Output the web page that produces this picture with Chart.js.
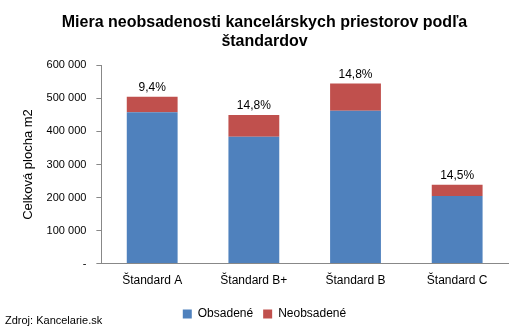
<!DOCTYPE html>
<html><head><meta charset="utf-8">
<script src="https://cdn.jsdelivr.net/npm/chart.js@4"></script>
<style>
html,body{margin:0;padding:0;background:#fff;}
#wrap{position:relative;width:522px;height:330px;}
#src{position:absolute;left:5px;top:314px;font:11px "Liberation Sans",Arial,sans-serif;color:#000;}
</style></head>
<body><div id="wrap"><canvas id="c" width="522" height="330"></canvas><div id="src">Zdroj: Kancelarie.sk</div></div>
<script>
const categories = ["Štandard A","Štandard B+","Štandard B","Štandard C"];
const occupied = [458000, 384000, 463000, 205000];
const vacant = [47000, 66000, 82000, 34000];
const percentLabels = ["9,4%","14,8%","14,8%","14,5%"];
const seriesNames = ["Obsadené","Neobsadené"];
const yTicks = [0,100000,200000,300000,400000,500000,600000];

const font = '"Liberation Sans", Arial, sans-serif';

const topLabels = {
  id:'topLabels',
  afterDatasetsDraw(chart){
    const ctx = chart.ctx;
    const meta = chart.getDatasetMeta(1);
    ctx.save();
    ctx.font = '12px ' + font;
    ctx.fillStyle = '#000';
    ctx.textAlign = 'center';
    ctx.textBaseline = 'bottom';
    meta.data.forEach((bar,i)=>{
      ctx.fillText(percentLabels[i], bar.x, bar.y - 3);
    });
    ctx.restore();
  }
};

new Chart(document.getElementById('c'), {
  type:'bar',
  data:{
    labels: categories,
    datasets:[
      {label: seriesNames[0], data: occupied, backgroundColor:'#4F81BD', categoryPercentage:1, barPercentage:0.5},
      {label: seriesNames[1], data: vacant, backgroundColor:'#C0504D', categoryPercentage:1, barPercentage:0.5}
    ]
  },
  options:{
    responsive:false,
    animation:false,
    layout:{padding:{left:21,right:14,top:7,bottom:0}},
    plugins:{
      title:{display:true, text:['Miera neobsadenosti kancelárskych priestorov podľa','štandardov'],
        font:{family:font, size:16, weight:'bold'}, color:'#000', padding:{top:6,bottom:14}, lineHeight:1.2},
      legend:{position:'bottom', labels:{boxWidth:9, boxHeight:9, font:{family:font,size:12}, color:'#000', padding:10}},
      tooltip:{enabled:false}
    },
    scales:{
      x:{stacked:true,
        grid:{display:false, drawTicks:false},
        border:{color:'#888'},
        ticks:{font:{family:font,size:12}, color:'#000', padding:10}
      },
      y:{stacked:true, min:0, max:600000,
        afterBuildTicks(s){ s.ticks = yTicks.map(v=>({value:v})); },
        grid:{drawOnChartArea:false, tickLength:5, color:'#888'},
        border:{color:'#888'},
        ticks:{font:{family:font,size:11}, color:'#000', padding:10,
          callback:(v)=> v===0 ? '-' : v.toLocaleString('en-US').replace(/,/g,' ')},
        title:{display:true, text:'Celková plocha m2', font:{family:font,size:13}, color:'#000', padding:{top:0,bottom:0}}
      }
    }
  },
  plugins:[topLabels]
});
</script></body></html>
